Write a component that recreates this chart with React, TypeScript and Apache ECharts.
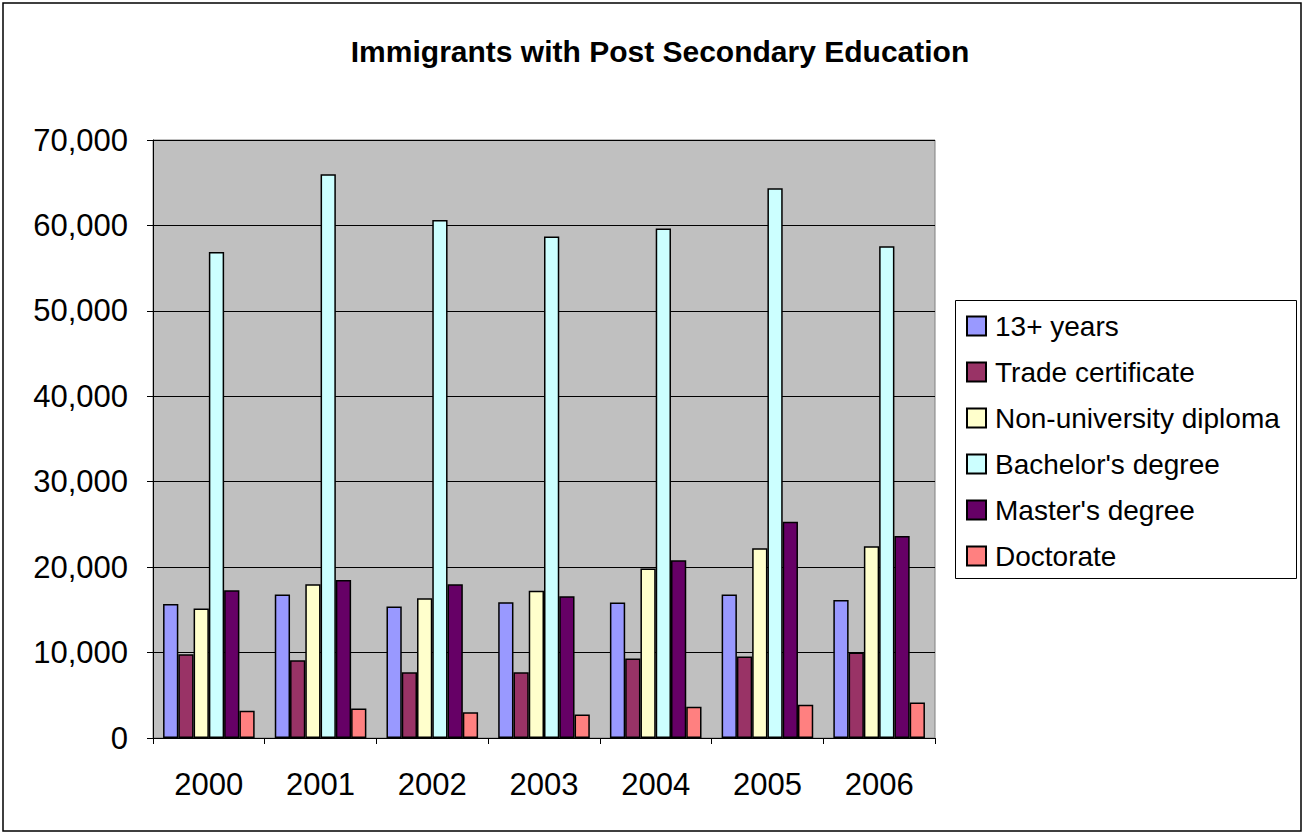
import React, { useEffect, useRef } from "react";
import * as echarts from "echarts";

const years = ["2000", "2001", "2002", "2003", "2004", "2005", "2006"];
const seriesNames = ["13+ years", "Trade certificate", "Non-university diploma", "Bachelor's degree", "Master's degree", "Doctorate"];
const colors = ["#9999FF", "#993366", "#FFFFCC", "#CCFFFF", "#660066", "#FF8080"];
const thirteenPlus = [15700, 16800, 15400, 15900, 15850, 16800, 16150];
const trade = [9800, 9100, 7700, 7700, 9300, 9550, 10000];
const nonUniv = [15150, 18000, 16350, 17250, 19850, 22200, 22450];
const bachelor = [56900, 66000, 60650, 58700, 59650, 64350, 57550];
const master = [17300, 18500, 18000, 16600, 20800, 25300, 23650];
const doctorate = [3200, 3450, 3000, 2750, 3650, 3900, 4150];
const allValues = [thirteenPlus, trade, nonUniv, bachelor, master, doctorate];

export default function App() {
  const ref = useRef<HTMLDivElement>(null);
  useEffect(() => {
    if (!ref.current) return;
    const chart = echarts.init(ref.current, undefined, { renderer: "svg" });
    const font = "Arial, 'Liberation Sans', sans-serif";
    chart.setOption({
      animation: false,
      backgroundColor: "#ffffff",
      textStyle: { fontFamily: font },
      title: {
        text: "Immigrants with Post Secondary Education",
        left: 655,
        textAlign: "center",
        top: 31,
        textStyle: { fontFamily: font, fontSize: 30, fontWeight: "bold", color: "#000" },
      },
      graphic: [
        {
          type: "rect",
          shape: { x: 3, y: 3, width: 1298, height: 828 },
          style: { fill: "none", stroke: "#000", lineWidth: 1.5 },
          silent: true,
        },
        {
          type: "rect",
          shape: { x: 955.5, y: 300.5, width: 341, height: 278 },
          style: { fill: "#fff", stroke: "#000", lineWidth: 1 },
          silent: true,
          z: -1,
        },
      ],
      legend: {
        orient: "vertical",
        left: 955,
        top: 300,
        padding: [12, 8, 12, 11],
        itemWidth: 19,
        itemHeight: 19,
        itemGap: 18,
        borderWidth: 0,
        icon: "rect",
        textStyle: { fontFamily: font, fontSize: 28, color: "#000", lineHeight: 28, padding: [0, 0, 0, 4] },
        data: seriesNames,
      },
      grid: { left: 153, top: 140, width: 782, height: 598, show: true, backgroundColor: "#C0C0C0", borderColor: "#808080", borderWidth: 1 },
      xAxis: {
        type: "category",
        data: years,
        axisLine: { lineStyle: { color: "#000", width: 1 } },
        axisTick: { show: true, inside: false, length: 6, lineStyle: { color: "#000" }, alignWithLabel: false },
        axisLabel: { fontFamily: font, fontSize: 31, color: "#000", margin: 31 },
      },
      yAxis: {
        type: "value",
        min: 0,
        max: 70000,
        interval: 10000,
        axisLine: { show: true, lineStyle: { color: "#000", width: 1 } },
        axisTick: { show: true, length: 6, lineStyle: { color: "#000" } },
        splitLine: { lineStyle: { color: "#000", width: 1 } },
        axisLabel: {
          fontFamily: font,
          fontSize: 31,
          color: "#000",
          margin: 25,
          formatter: (v: number) => v.toLocaleString("en-US"),
        },
      },
      series: seriesNames.map((name, i) => ({
        name,
        type: "bar",
        data: allValues[i],
        barGap: "0%",
        barCategoryGap: "18%",
        itemStyle: { color: colors[i], borderColor: "#000", borderWidth: 1.5 },
      })),
    });
    return () => chart.dispose();
  }, []);
  return <div ref={ref} style={{ position: "fixed", left: 0, top: 0, width: 1303, height: 833 }} />;
}
